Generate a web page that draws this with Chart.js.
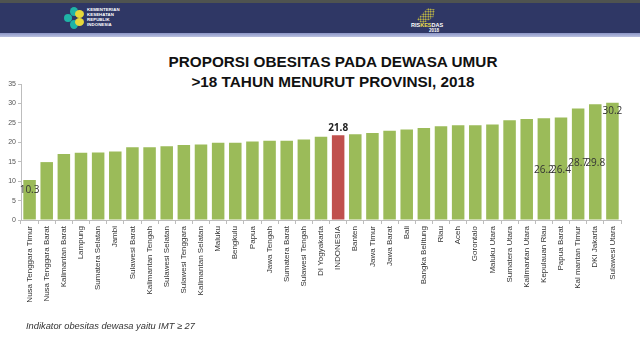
<!DOCTYPE html>
<html>
<head>
<meta charset="utf-8">
<script src="https://cdn.jsdelivr.net/npm/chart.js@4.4.1/dist/chart.umd.min.js"></script>
<style>
  html, body { margin: 0; padding: 0; background: #fff; }
  #wrap { position: relative; width: 640px; height: 340px; overflow: hidden; font-family: "Liberation Sans", Arial, sans-serif; }
  #topstrip { position: absolute; left: 0; top: 0; width: 640px; height: 3px; background: #4f5350; }
  #band { position: absolute; left: 0; top: 3px; width: 640px; height: 30px; background: #2f3765; }
  #band2 { position: absolute; left: 0; top: 33px; width: 640px; height: 4px; background: linear-gradient(#8b95c6, #b9c0e0); }
  #logoL { position: absolute; left: 64px; top: 6px; width: 22px; height: 24px; }
  .dot { position: absolute; border-radius: 50%; }
  #kemtxt { position: absolute; left: 87px; top: 7px; color: #fff; font-size: 4.3px; line-height: 5px; font-weight: bold; letter-spacing: 0.1px; }
  #risk { position: absolute; left: 411px; top: 23px; color: #fff; font-size: 5.5px; font-weight: bold; line-height: 5px; }
  #risk span { color: #f0e04a; }
  #riskyr { position: absolute; left: 429px; top: 28px; color: #fff; font-size: 4.5px; font-weight: bold; }
  #riskdots { position: absolute; left: 417px; top: 8px; width: 18px; height: 16px;
    background-image: radial-gradient(circle, #e8dc3a 45%, transparent 50%); background-size: 2.5px 2.5px;
    clip-path: polygon(30% 100%, 0% 70%, 60% 0%, 100% 10%, 90% 60%); }
  #title { position: absolute; left: 0; top: 52px; width: 666px; text-align: center; font-weight: bold; font-size: 15.3px; line-height: 20px; color: #111; }
  #note { position: absolute; left: 26px; top: 321px; font-style: italic; font-size: 9.3px; color: #333; }
  #c { position: absolute; left: 0; top: 0; }
</style>
</head>
<body>
<div id="wrap">
  <div id="topstrip"></div>
  <div id="band"></div>
  <div id="band2"></div>
  <div id="logoL">
    <div class="dot" style="left:0px;top:8px;width:8px;height:8px;background:#1fb3a6"></div>
    <div class="dot" style="left:6px;top:1px;width:8px;height:9px;background:#1fb3a6"></div>
    <div class="dot" style="left:6px;top:14px;width:8px;height:9px;background:#1fb3a6"></div>
    <div class="dot" style="left:11px;top:4px;width:9px;height:8px;background:#e6d83a"></div>
    <div class="dot" style="left:11px;top:12px;width:9px;height:8px;background:#e6d83a"></div>
  </div>
  <div id="kemtxt">KEMENTERIAN<br>KESEHATAN<br>REPUBLIK<br>INDONESIA</div>
  <div id="riskdots"></div>
  <div id="risk">RIS<span>KES</span>DAS</div>
  <div id="riskyr">2018</div>
  <div id="title">PROPORSI OBESITAS PADA DEWASA UMUR<br>&gt;18 TAHUN MENURUT PROVINSI, 2018</div>
  <canvas id="c" width="640" height="340"></canvas>
  <div id="note">Indikator obesitas dewasa yaitu IMT ≥ 27</div>
</div>
<script>
const provinces = [
  "Nusa Tenggara Timur", "Nusa Tenggara Barat", "Kalimantan Barat", "Lampung", "Sumatera Selatan",
  "Jambi", "Sulawesi Barat", "Kalimantan Tengah", "Sulawesi Selatan", "Sulawesi Tenggara",
  "Kalimantan Selatan", "Maluku", "Bengkulu", "Papua", "Jawa Tengah",
  "Sumatera Barat", "Sulawesi Tengah", "DI Yogyakarta", "INDONESIA", "Banten",
  "Jawa Timur", "Jawa Barat", "Bali", "Bangka Belitung", "Riau",
  "Aceh", "Gorontalo", "Maluku Utara", "Sumatera Utara", "Kalimantan Utara",
  "Kepulauan Riau", "Papua Barat", "Kal mantan Timur", "DKI Jakarta", "Sulawesi Utara"
];
const obesity = [
  10.3, 14.9, 17.0, 17.3, 17.4,
  17.6, 18.7, 18.7, 19.0, 19.3,
  19.4, 19.9, 19.9, 20.2, 20.4,
  20.4, 20.7, 21.4, 21.8, 22.1,
  22.4, 23.0, 23.3, 23.7, 24.1,
  24.4, 24.4, 24.6, 25.7, 26.0,
  26.2, 26.4, 28.7, 29.8, 30.2
];
const yTicks = [0, 5, 10, 15, 20, 25, 30, 35];
const highlight = "INDONESIA";
// which bars carry a value label, and where the label sits relative to the bar top (px)
const labelled = [
  { i: 0, dy: 10, bold: false },
  { i: 18, dy: -7, bold: true },
  { i: 30, dy: 52, bold: false },
  { i: 31, dy: 53, bold: false },
  { i: 32, dy: 55, bold: false },
  { i: 33, dy: 59, bold: false },
  { i: 34, dy: 9, bold: false }
];

const colors = provinces.map(p => p === highlight ? "#c0504d" : "#9bbb59");

const valueLabels = {
  id: "valueLabels",
  afterDatasetsDraw(chart) {
    const ctx = chart.ctx;
    const meta = chart.getDatasetMeta(0);
    ctx.save();
    ctx.textAlign = "center";
    ctx.textBaseline = "middle";
    labelled.forEach(l => {
      const bar = meta.data[l.i];
      ctx.font = (l.bold ? "bold " : "") + "10px 'Open Sans', 'Liberation Sans', sans-serif";
      ctx.fillStyle = l.bold ? "#222" : "#333";
      ctx.fillText(obesity[l.i].toFixed(1), bar.x, bar.y + l.dy);
    });
    ctx.restore();
  }
};

new Chart(document.getElementById("c"), {
  type: "bar",
  data: {
    labels: provinces,
    datasets: [{ data: obesity, backgroundColor: colors, borderWidth: 0,
      categoryPercentage: 1.0, barPercentage: 0.73 }]
  },
  options: {
    responsive: false,
    animation: false,
    layout: { padding: { top: 84, right: 19, left: 0, bottom: 0 } },
    plugins: { legend: { display: false }, tooltip: { enabled: false } },
    scales: {
      x: {
        offset: true,
        grid: { display: true, drawOnChartArea: false, drawTicks: true, tickLength: 4, color: "#bdbdbd", offset: true },
        border: { display: true, color: "#bdbdbd" },
        ticks: { autoSkip: false, maxRotation: 90, minRotation: 90, padding: 2,
          font: { size: 8, family: "'Liberation Sans', Arial, sans-serif" }, color: "#333" },
        afterFit(s) { s.height = 120; }
      },
      y: {
        min: 0, max: 35,
        afterBuildTicks(s) { s.ticks = yTicks.map(v => ({ value: v })); },
        grid: { display: true, drawOnChartArea: false, drawTicks: true, tickLength: 3, color: "#bdbdbd" },
        border: { display: true, color: "#bdbdbd" },
        ticks: { padding: 2, font: { size: 7, family: "'Liberation Sans', Arial, sans-serif" }, color: "#555" },
        afterFit(s) { s.width = 21; }
      }
    }
  },
  plugins: [valueLabels]
});
</script>
</body>
</html>
